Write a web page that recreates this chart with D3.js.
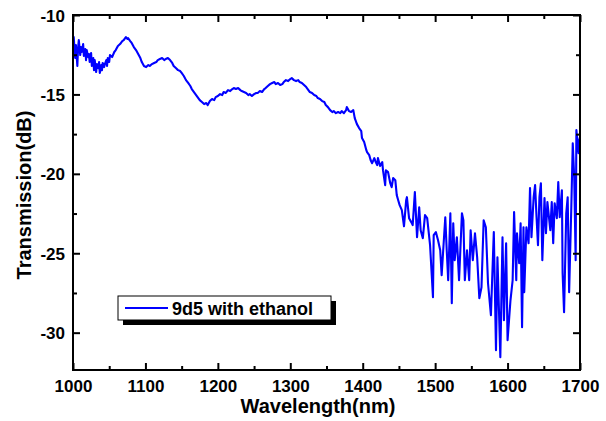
<!DOCTYPE html>
<html>
<head>
<meta charset="utf-8">
<script src="https://cdn.jsdelivr.net/npm/d3@7"></script>
<style>
  body { margin: 0; background: #fff; }
  text { font-family: "Liberation Sans", Arial, sans-serif; font-weight: bold; fill: #000; }
</style>
</head>
<body>
<svg width="606" height="421"></svg>
<script>
(function() {
  // data
  var wavelength = [
    1000,1001,1003,1004,1006,1007,1008,1010,1011,1012,1014,1015,1017,1018,1019,1021,1022,1023,1025,1026,
    1028,1029,1030,1032,1033,1035,1036,1037,1039,1040,1041,1043,1044,1046,1047,1048,1050,1051,1054,1057,
    1059,1062,1065,1068,1070,1072,1073,1075,1076,1079,1081,1084,1087,1090,1093,1095,1098,1101,1104,1106,
    1109,1112,1115,1117,1120,1123,1126,1128,1131,1134,1137,1139,1142,1145,1148,1150,1153,1156,1159,1162,
    1164,1167,1170,1173,1175,1178,1181,1184,1186,1189,1192,1195,1197,1200,1203,1206,1208,1211,1214,1217,
    1220,1222,1225,1228,1231,1233,1236,1239,1242,1244,1247,1250,1253,1255,1258,1261,1264,1266,1269,1272,
    1275,1278,1280,1283,1286,1289,1291,1294,1297,1300,1302,1305,1308,1311,1313,1316,1319,1322,1324,1327,
    1330,1333,1336,1338,1341,1344,1347,1349,1352,1355,1358,1360,1363,1366,1369,1371,1374,1377,1378,1381,
    1384,1387,1389,1392,1395,1398,1399,1402,1405,1406,1409,1411,1413,1416,1418,1420,1421,1424,1427,1428,
    1431,1432,1435,1438,1440,1442,1445,1447,1449,1451,1454,1457,1460,1461,1464,1467,1469,1472,1475,1478,
    1480,1483,1486,1489,1493,1497,1498,1501,1504,1507,1509,1512,1514,1516,1518,1521,1523,1525,1527,1530,
    1533,1537,1539,1541,1544,1547,1549,1552,1555,1558,1561,1564,1567,1570,1573,1577,1581,1584,1586,1590,
    1593,1595,1598,1600,1604,1607,1609,1612,1613,1616,1618,1620,1622,1623,1626,1629,1631,1633,1636,1638,
    1640,1642,1644,1646,1648,1651,1653,1655,1659,1661,1663,1665,1668,1670,1672,1675,1676,1678,1681,1683,
    1685,1688,1690,1692,1694,1695,1698,1699,1700
  ];

  var transmission = [
    -11.76,-11.39,-12.71,-11.89,-13.21,-12.08,-11.58,-12.52,-12.02,-12.33,-11.83,-12.58,-12.14,-12.84,-12.21,-12.65,-12.46,-12.96,-12.39,-13.21,
    -12.71,-13.47,-12.84,-13.59,-13.09,-13.34,-12.96,-13.65,-13.15,-13.47,-13.02,-13.28,-13.09,-12.84,-13.21,-12.71,-12.96,-12.52,-12.65,-12.33,
    -12.21,-11.95,-11.83,-11.64,-11.58,-11.45,-11.39,-11.51,-11.45,-11.64,-11.76,-12.02,-12.21,-12.46,-12.71,-12.96,-13.21,-13.28,-13.15,-13.21,
    -13.09,-13.02,-12.96,-12.84,-12.77,-12.71,-12.84,-12.77,-12.71,-12.84,-13.02,-13.21,-13.34,-13.47,-13.53,-13.65,-13.84,-14.10,-14.28,-14.47,
    -14.66,-14.85,-15.04,-15.23,-15.36,-15.48,-15.61,-15.54,-15.67,-15.42,-15.29,-15.36,-15.17,-15.10,-14.98,-15.04,-14.85,-14.91,-14.73,-14.79,
    -14.66,-14.60,-14.66,-14.60,-14.73,-14.79,-14.85,-14.91,-15.04,-14.98,-15.10,-14.98,-14.91,-14.91,-14.79,-14.85,-14.66,-14.60,-14.47,-14.35,
    -14.28,-14.22,-14.35,-14.28,-14.41,-14.35,-14.22,-14.10,-14.16,-14.03,-13.97,-14.10,-14.16,-14.10,-14.22,-14.28,-14.41,-14.54,-14.66,-14.85,
    -14.91,-15.04,-15.10,-15.23,-15.29,-15.42,-15.48,-15.67,-15.80,-15.99,-16.11,-16.05,-16.18,-16.11,-16.18,-16.05,-16.18,-15.99,-15.80,-16.05,
    -16.11,-15.99,-16.49,-16.87,-17.12,-17.31,-17.75,-18.00,-18.51,-18.63,-18.82,-19.14,-19.33,-19.01,-19.26,-19.45,-19.01,-19.51,-19.26,-19.77,
    -20.71,-19.77,-19.89,-20.59,-20.84,-20.27,-20.40,-21.34,-21.66,-21.97,-22.29,-23.30,-21.66,-21.47,-22.79,-23.04,-23.23,-21.15,-23.99,-22.10,
    -23.55,-24.05,-22.60,-22.79,-24.49,-27.77,-23.86,-23.67,-24.18,-24.81,-26.38,-24.18,-22.73,-24.81,-26.70,-22.48,-28.15,-23.11,-25.44,-23.99,
    -26.70,-22.48,-22.92,-26.70,-24.81,-26.70,-23.55,-25.44,-23.74,-25.25,-27.83,-27.14,-22.92,-23.36,-26.89,-28.90,-23.67,-31.11,-25.25,-31.55,
    -23.99,-29.22,-24.37,-30.48,-27.96,-26.70,-22.41,-26.70,-23.74,-25.63,-23.11,-29.66,-23.36,-27.45,-23.36,-24.37,-20.90,-23.99,-21.47,-20.71,
    -22.73,-24.49,-21.47,-20.59,-25.44,-21.53,-23.74,-21.78,-23.55,-21.78,-24.37,-21.85,-22.79,-20.52,-22.73,-21.03,-26.26,-28.71,-22.48,-21.47,
    -27.45,-22.10,-18.07,-20.21,-25.44,-17.25,-18.70,-17.88,-17.69
  ];

  var xTicks = [1000, 1100, 1200, 1300, 1400, 1500, 1600, 1700];
  var xMinor = [1050, 1150, 1250, 1350, 1450, 1550, 1650];
  var yTicks = [-10, -15, -20, -25, -30];
  var yMinor = [-12.5, -17.5, -22.5, -27.5];
  var seriesName = '9d5 with ethanol';

  var svg = d3.select('svg');
  var left = 73, right = 580, top = 15, bottom = 370;

  var x = d3.scaleLinear().domain([1000, 1700]).range([left, right]);
  var y = d3.scaleLinear().domain([-32.35, -10]).range([bottom, top]);

  var points = wavelength.map(function(w, i) { return [w, transmission[i]]; });

  // the curve
  svg.append('path')
    .datum(points)
    .attr('fill', 'none')
    .attr('stroke', '#0000ff')
    .attr('stroke-width', 2.1)
    .attr('stroke-linejoin', 'round')
    .attr('d', d3.line().x(function(d) { return x(d[0]); }).y(function(d) { return y(d[1]); }));

  // axes, ticks pointing inward like Origin
  function addAxis(axis, tx, ty) {
    var g = svg.append('g').attr('transform', 'translate(' + tx + ',' + ty + ')').call(axis);
    g.select('.domain').remove();
    g.selectAll('line').attr('stroke', '#000').attr('stroke-width', 2);
    g.selectAll('text').attr('font-size', 17).style('font-weight', 'bold');
    return g;
  }
  var plain = function(d) { return String(d); };

  var gx = addAxis(d3.axisBottom(x).tickValues(xTicks).tickSize(-7).tickFormat(plain), 0, bottom);
  gx.selectAll('text').attr('y', 22).attr('dy', 0);
  addAxis(d3.axisBottom(x).tickValues(xMinor).tickSize(-4).tickFormat(''), 0, bottom);
  addAxis(d3.axisTop(x).tickValues(xTicks).tickSize(-7).tickFormat(''), 0, top);
  addAxis(d3.axisTop(x).tickValues(xMinor).tickSize(-4).tickFormat(''), 0, top);

  var gy = addAxis(d3.axisLeft(y).tickValues(yTicks).tickSize(-7).tickFormat(plain), left, 0);
  gy.selectAll('text').attr('x', -8).attr('dy', '0.36em');
  addAxis(d3.axisLeft(y).tickValues(yMinor).tickSize(-4).tickFormat(''), left, 0);
  addAxis(d3.axisRight(y).tickValues(yTicks).tickSize(-7).tickFormat(''), right, 0);
  addAxis(d3.axisRight(y).tickValues(yMinor).tickSize(-4).tickFormat(''), right, 0);

  // frame
  svg.append('rect')
    .attr('x', left).attr('y', top)
    .attr('width', right - left).attr('height', bottom - top)
    .attr('fill', 'none').attr('stroke', '#000').attr('stroke-width', 2);

  // axis titles
  svg.append('text')
    .attr('x', 318).attr('y', 413)
    .attr('text-anchor', 'middle')
    .attr('font-size', 20)
    .text('Wavelength(nm)');

  svg.append('text')
    .attr('transform', 'translate(31,' + 195 + ') rotate(-90)')
    .attr('text-anchor', 'middle')
    .attr('font-size', 20)
    .text('Transmission(dB)');

  // legend with drop shadow
  var lg = svg.append('g').attr('transform', 'translate(118,296)');
  lg.append('rect').attr('x', 5).attr('y', 5).attr('width', 213).attr('height', 24).attr('fill', '#000');
  lg.append('rect').attr('x', 0).attr('y', 0).attr('width', 213).attr('height', 24)
    .attr('fill', '#fff').attr('stroke', '#000').attr('stroke-width', 1);
  lg.append('line').attr('x1', 7).attr('x2', 50).attr('y1', 12).attr('y2', 12)
    .attr('stroke', '#0000ff').attr('stroke-width', 1.8);
  lg.append('text').attr('x', 54).attr('y', 19).attr('font-size', 18).text(seriesName);
})();
</script>
</body>
</html>
